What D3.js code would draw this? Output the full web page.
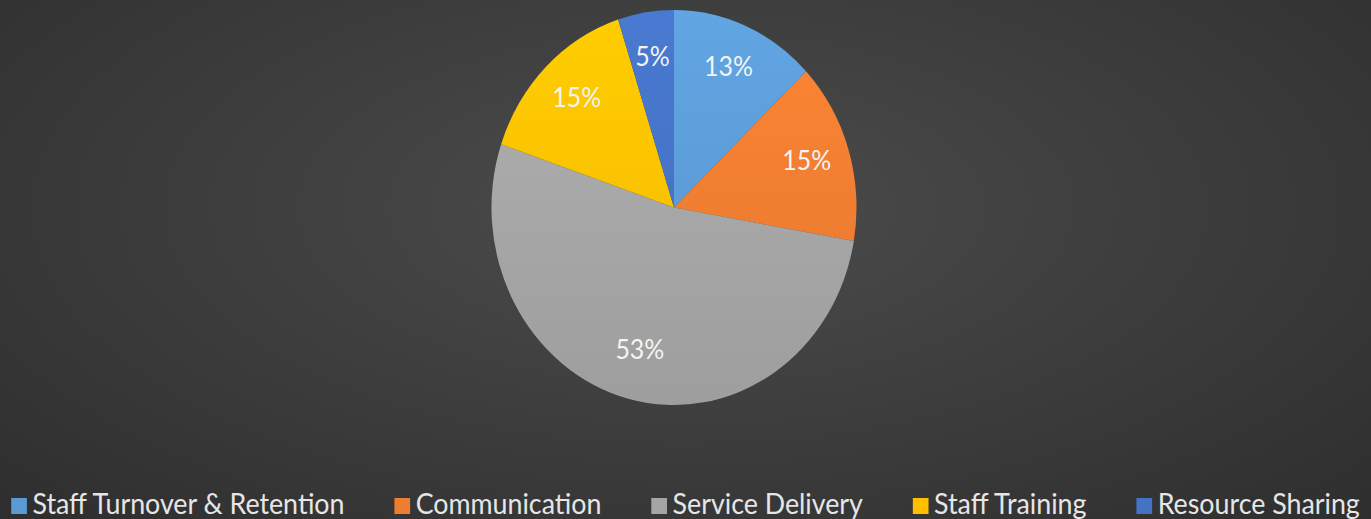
<!DOCTYPE html>
<html><head><meta charset="utf-8">
<script src="https://cdn.jsdelivr.net/npm/d3@7"></script>
<style>
html,body{margin:0;padding:0;width:1371px;height:519px;overflow:hidden;}
body{background:radial-gradient(ellipse farthest-corner at 50% 40%, #4c4c4c 0%, #2e2e2e 100%);}
svg{display:block;}
</style></head><body>
<svg id="chart"></svg>
<script>
// Share of issues by area
const categories = ["Staff Turnover & Retention", "Communication", "Service Delivery", "Staff Training", "Resource Sharing"];
const values = [13, 15, 53, 15, 5];
const colors = ["#5b9bd5", "#ed7d31", "#a5a5a5", "#ffc000", "#4472c4"];

const W = 1371, H = 519;
// the drawing is slightly condensed horizontally
const sx = 182.5 / 197.5;
const VW = W / sx;

const svg = d3.select("#chart")
  .attr("width", W).attr("height", H)
  .attr("viewBox", `0 0 ${VW} ${H}`)
  .attr("preserveAspectRatio", "none");

const cx = 674 / sx, cy = 207.5, R = 197.5;

const defs = svg.append("defs");
colors.forEach((c, i) => {
  const g = defs.append("linearGradient")
    .attr("id", "slice" + i)
    .attr("gradientUnits", "userSpaceOnUse")
    .attr("x1", 0).attr("y1", -R).attr("x2", 0).attr("y2", R);
  g.append("stop").attr("offset", 0).attr("stop-color", d3.color(c).brighter(0.18).formatHex());
  g.append("stop").attr("offset", 1).attr("stop-color", d3.color(c).darker(0.12).formatHex());
});

const pie = d3.pie().sort(null).value(d => d);
const arcs = pie(values);
const arc = d3.arc().innerRadius(0).outerRadius(R);
const labelArc = d3.arc().innerRadius(R * 0.76).outerRadius(R * 0.76);

const g = svg.append("g").attr("transform", `translate(${cx},${cy})`);
g.selectAll("path.slice").data(arcs).join("path")
  .attr("class", "slice")
  .attr("d", arc)
  .attr("fill", (d, i) => `url(#slice${i})`);

g.selectAll("text.lbl").data(arcs).join("text")
  .attr("class", "lbl")
  .attr("transform", d => `translate(${labelArc.centroid(d)})`)
  .attr("text-anchor", "middle")
  .attr("dominant-baseline", "central")
  .attr("dy", -4)
  .attr("font-family", "Lato, 'Open Sans', sans-serif")
  .attr("font-size", 27)
  .attr("fill", "#f4f4f4")
  .text(d => d.data + "%");

// legend along the bottom
const legend = svg.append("g");
const items = legend.selectAll("g.item").data(categories).join("g").attr("class", "item");
const mw = 17, mh = 16, mgap = 6, igap = 54;
items.append("rect")
  .attr("width", mw).attr("height", mh)
  .attr("y", 498)
  .attr("fill", (d, i) => colors[i]);
items.append("text")
  .attr("x", mw + mgap)
  .attr("y", 514)
  .attr("font-family", "Lato, 'Open Sans', sans-serif")
  .attr("font-size", 29)
  .attr("fill", "#e6e6e6")
  .text(d => d);

let x = 0;
const offsets = [];
items.each(function () {
  offsets.push(x);
  const tw = d3.select(this).select("text").node().getComputedTextLength();
  x += mw + mgap + tw + igap;
});
const total = x - igap;
const x0 = (VW - total) / 2;
items.attr("transform", (d, i) => `translate(${x0 + offsets[i]},0)`);
</script>
</body></html>
